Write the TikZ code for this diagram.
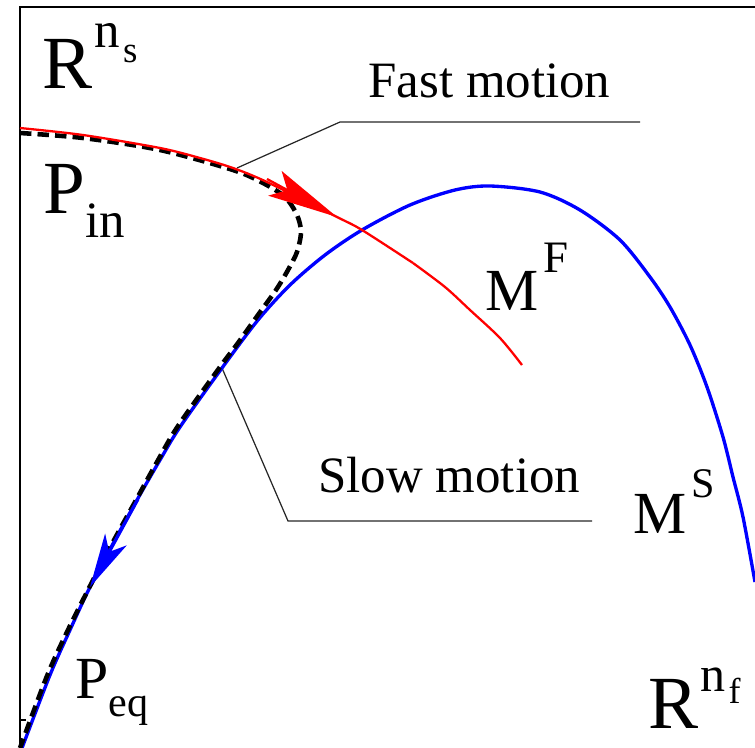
\documentclass[tikz,border=0pt]{standalone}
\usepackage{fontspec}
\setmainfont{Liberation Serif}
\newfontfamily\timesfont{Liberation Serif}
\usetikzlibrary{arrows.meta}

% raised / lowered script text: {shift}{size}{text}
\newcommand{\supr}[3]{\raisebox{#1}{\fontsize{#2}{#2}\selectfont #3}}
\newcommand{\subr}[3]{\raisebox{-#1}{\fontsize{#2}{#2}\selectfont #3}}

\begin{document}
\begin{tikzpicture}[
    x=0.02cm, y=-0.02cm,
    frame/.style={
        draw=black,
        line width=0.8pt
    },
    slowline/.style={
        draw=blue,
        line width=1.9pt
    },
    fastline/.style={
        draw=red,
        line width=1.3pt
    },
    pathline/.style={
        draw=black,
        line width=2.6pt,
        dash pattern=on 6.5pt off 3.5pt
    },
    leader/.style={
        draw=black!85,
        line width=0.7pt
    },
    biglabel/.style={
        anchor=base west,
        inner sep=0pt,
        font=\timesfont\fontsize{42.7}{44}\selectfont
    },
    midlabel/.style={
        anchor=base west,
        inner sep=0pt,
        font=\timesfont\fontsize{34}{36}\selectfont
    },
    note/.style={
        anchor=base west,
        inner sep=0pt,
        font=\timesfont\fontsize{29}{30}\selectfont
    }
]

% Frame
\useasboundingbox (0,0) rectangle (755,748);
\draw[frame] (20,748) -- (20,7) -- (755,7);
\draw[frame] (20,720) -- (26,720);

% Labels
\node[biglabel] (rns) at (42,88) {R\kern1pt\supr{22.8pt}{29}{n\kern2pt\subr{8pt}{21}{s}}};
\node[biglabel] (pin) at (43,213) {P\subr{14.2pt}{29}{in}};
\node[note] (fast) at (368,97) {Fast motion};
\node[note] (slow) at (318,492) {Slow motion};
\node[midlabel] (mf) at (485,310) {M\kern3pt\supr{21.6pt}{25.6}{F}};
\node[midlabel] (ms) at (633,533) {M\kern3pt\supr{20pt}{24}{S}};
\node[midlabel] (peq) at (75,698) {P\subr{10.8pt}{24}{eq}};
\node[biglabel] (rnf) at (648,728) {R\kern1pt\supr{20.5pt}{28.5}{n\kern2pt\subr{6.3pt}{20.5}{f}}};

% Leader lines
\coordinate (fastpt) at (237,168);
\coordinate (fastknee) at (340,122);
\coordinate (fastend) at (640,122);
\coordinate (slowpt) at (222,368);
\coordinate (slowknee) at (288,521);
\coordinate (slowend) at (592,521);
\draw[leader] (fastpt) -- (fastknee) -- (fastend);
\draw[leader] (slowpt) -- (slowknee) -- (slowend);

% Slow manifold
\draw[slowline] plot[smooth] coordinates {(755,582) (743,517) (733,477) (723,437)
    (707,387) (690,345) (670,307) (650,277) (620,240) (580,210) (540,192) (490,186)
    (455,190) (410,205) (362,230) (325,255) (290,285) (258,320) (222,368) (180,427)
    (160,460) (137,500) (115,540) (90,587) (70,630) (50,675) (22,748)};

% Trajectory
\draw[pathline] plot[smooth] coordinates {(20,133) (83,138) (160,150) (233,170)
    (263,183) (285,197) (297,215) (301,232) (297,252) (288,270) (276,290) (258,315)
    (238,343) (220,367) (178,426) (157,462) (135,502) (113,542) (88,590) (67,632)
    (47,676) (20,748)};

% Fast fibre
\draw[fastline] plot[smooth] coordinates {(20,128) (83,135) (160,148) (200,158)
    (233,168) (267,182) (337,217) (362,230) (413,263)};
\draw[fastline] plot[smooth] coordinates {(413,263) (445,287) (470,310) (500,338) (522,365)};

% Arrows
\draw[fastline, -{Stealth[length=1.41cm, width=0.56cm, inset=0.28cm]}] (267,179) -- (337,217);
\draw[slowline, -{Stealth[length=1.08cm, width=0.49cm, inset=0.28cm]}] (138,499) -- (90,587);

\end{tikzpicture}
\end{document}
